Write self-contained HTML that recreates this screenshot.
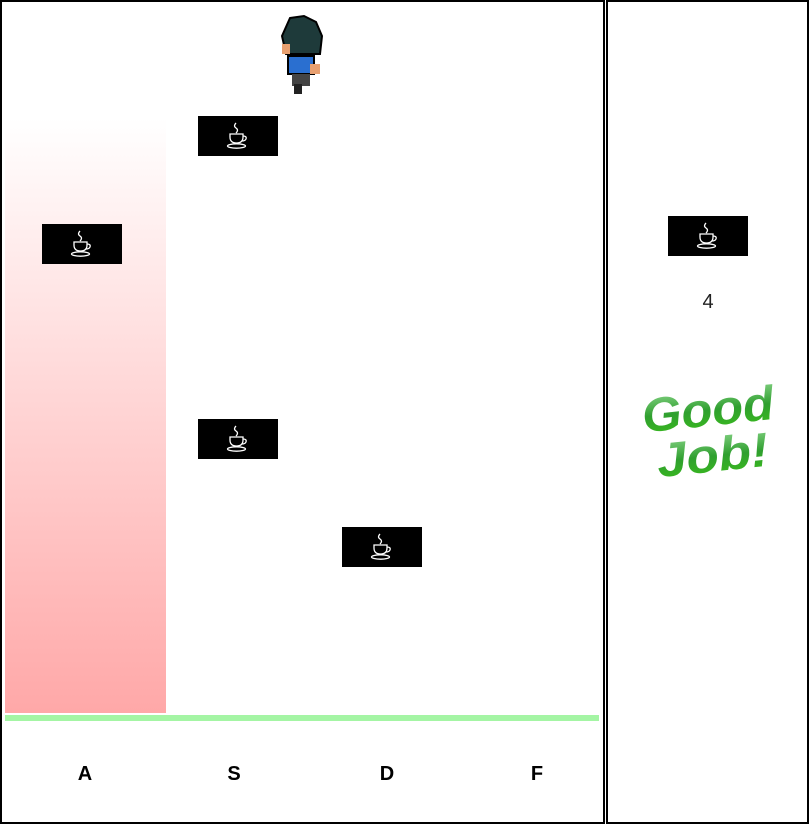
<!DOCTYPE html>
<html><head><meta charset="utf-8"><style>
body{margin:0;width:809px;height:824px;background:#fff;position:relative;overflow:hidden;font-family:"Liberation Sans",sans-serif}
.box{position:absolute;border:2px solid #000;box-sizing:border-box}
.tile{position:absolute;width:80px;height:40px;background:#000}
.tile svg{position:absolute;left:28px;top:6px}
.key{position:absolute;top:763px;font-weight:bold;font-size:20px;width:40px;text-align:center}
</style></head><body>
<svg width="0" height="0" style="position:absolute"><defs>
<g id="cup" fill="none" stroke="#fff" stroke-width="1.3">
<path d="M10 1 q-3 3 0 5 q3 2 0 5"/>
<path d="M4 12 h13 v3 q0 6 -6.5 6 q-6.5 0 -6.5 -6 z"/>
<path d="M17 14 q4 0 3 3 q-1 2 -4 2"/>
<ellipse cx="10.5" cy="24" rx="9" ry="2.2"/>
</g></defs></svg>
<div class="box" style="left:0;top:0;width:605px;height:824px"></div>
<div class="box" style="left:606px;top:0;width:203px;height:824px"></div>
<div style="position:absolute;left:5px;top:118px;width:161px;height:595px;background:linear-gradient(#fff,#ffa8a8)"></div>
<div style="position:absolute;left:5px;top:715px;width:594px;height:6px;background:#a4f5a4"></div>
<div class="key" style="left:65px">A</div>
<div class="key" style="left:214px">S</div>
<div class="key" style="left:367px">D</div>
<div class="key" style="left:517px">F</div>
<div class="tile" style="left:42px;top:224px"><svg width="24" height="28"><use href="#cup"/></svg></div>
<div class="tile" style="left:198px;top:116px"><svg width="24" height="28"><use href="#cup"/></svg></div>
<div class="tile" style="left:198px;top:419px"><svg width="24" height="28"><use href="#cup"/></svg></div>
<div class="tile" style="left:342px;top:527px"><svg width="24" height="28"><use href="#cup"/></svg></div>
<div class="tile" style="left:668px;top:216px"><svg width="24" height="28"><use href="#cup"/></svg></div>
<div style="position:absolute;left:688px;top:291px;width:40px;text-align:center;font-size:20px;color:#222">4</div>
<svg style="position:absolute;left:278px;top:14px" width="48" height="82">
<path d="M12 4 L26 2 L38 8 L44 22 L42 40 L8 40 L4 22 Z" fill="#1e3a3a" stroke="#000" stroke-width="2"/>
<rect x="4" y="30" width="8" height="10" fill="#e8a070"/>
<rect x="10" y="42" width="26" height="18" fill="#2a6fd0" stroke="#000" stroke-width="2"/>
<rect x="32" y="50" width="10" height="10" fill="#e8a070"/>
<rect x="14" y="60" width="18" height="12" fill="#444"/>
<rect x="16" y="70" width="8" height="10" fill="#222"/>
</svg>
<svg style="position:absolute;left:636px;top:375px" width="160" height="110">
<defs><linearGradient id="g" x1="0" y1="0" x2="0" y2="1"><stop offset="0" stop-color="#8fd88f"/><stop offset="0.5" stop-color="#2f9f2f"/><stop offset="1" stop-color="#3cc01a"/></linearGradient></defs>
<g transform="rotate(-6 80 55)" font-family="Liberation Sans" font-weight="bold" font-style="italic" fill="url(#g)" stroke="#fff" stroke-width="6" paint-order="stroke">
<text x="8" y="50" font-size="48" textLength="132" lengthAdjust="spacingAndGlyphs">Good</text>
<text x="18" y="96" font-size="48" textLength="112" lengthAdjust="spacingAndGlyphs">Job!</text>
</g></svg>
</body></html>
